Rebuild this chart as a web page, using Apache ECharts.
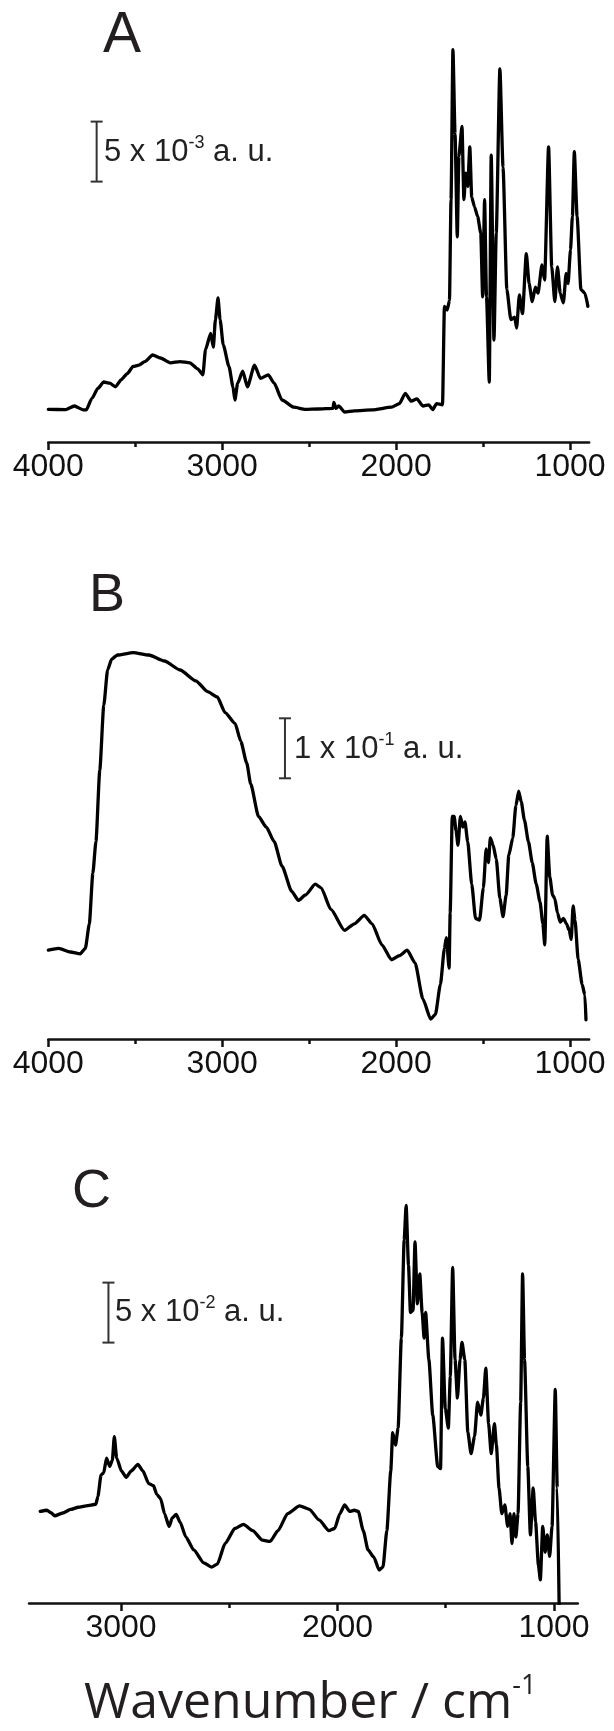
<!DOCTYPE html>
<html><head><meta charset="utf-8">
<script src="https://cdn.jsdelivr.net/npm/echarts@6/dist/echarts.min.js"></script>
<style>html,body{margin:0;padding:0;background:#fff}#c{width:614px;height:1731px}</style>
</head><body><div id="c"></div>
<script>
// ---- Panel A (units: 1e-3 a.u.) ----
const A_wn = [4000,3900,3850,3800,3782,3749,3715,3681,3647,3614,3580,3546,3512,3479,3445,3400,3355,3298,3242,3186,3141,3111,3096,3066,3051,3039,3024,3012,2994,2961,2938,2927,2911,2882,2855,2814,2780,2735,2701,2656,2588,2521,2450,2363,2358,2345,2330,2296,2240,2138,2026,1981,1947,1913,1880,1846,1812,1790,1767,1733,1722,1706,1693,1684,1673,1661,1648,1639,1621,1610,1599,1588,1576,1565,1549,1531,1513,1502,1491,1480,1464,1453,1437,1424,1403,1385,1363,1340,1318,1307,1291,1273,1251,1235,1217,1199,1184,1161,1146,1123,1105,1087,1072,1056,1038,1022,1011,997,986,975,959,937,914,897];
const A_abs = [2.72,2.7,3.0,2.68,2.67,3.64,4.47,5.0,4.9,4.6,5.2,5.7,6.3,6.4,6.7,7.25,7.0,6.6,6.7,6.6,6.1,5.6,7.7,9.05,7.9,10.2,12.0,10.2,8.1,6.3,4.6,3.5,4.9,5.9,4.6,6.4,5.3,5.6,4.9,3.5,2.9,2.72,2.75,2.8,3.3,2.8,3.0,2.5,2.6,2.67,2.9,3.2,4.05,3.4,3.6,3.0,3.1,2.7,3.2,3.1,11.3,11.0,11.8,20.2,32.7,25.7,17.1,23.8,26.3,20.2,22.4,21.3,24.6,20.4,19.6,18.8,17.4,12.1,20.2,12.1,5.0,23.9,8.5,17.4,31.1,22.9,12.7,10.2,10.4,9.5,12.25,10.7,15.7,13.2,11.7,12.9,12.4,14.75,13.5,24.6,14.6,11.7,14.6,12.4,11.6,14.05,13.2,16.0,18.8,24.2,18.8,12.7,12.4,11.3];
// ---- Panel B (units: a.u.) ----
const B_wn = [4000,3940,3873,3816,3787,3764,3744,3726,3704,3681,3659,3636,3602,3512,3422,3332,3242,3152,3084,3028,2983,2926,2893,2859,2836,2791,2746,2701,2656,2600,2562,2521,2465,2431,2375,2296,2240,2183,2138,2082,2026,1981,1936,1891,1846,1801,1774,1745,1722,1711,1695,1689,1677,1666,1655,1644,1630,1617,1604,1588,1565,1543,1520,1498,1482,1469,1458,1442,1424,1403,1385,1367,1352,1329,1311,1295,1280,1262,1239,1217,1194,1172,1156,1145,1131,1116,1100,1087,1072,1056,1038,1020,1004,993,982,971,953,930,914,908];
const B_abs = [0.148,0.151,0.145,0.142,0.151,0.192,0.276,0.329,0.448,0.556,0.615,0.633,0.640,0.644,0.640,0.630,0.615,0.597,0.579,0.570,0.544,0.526,0.496,0.460,0.425,0.371,0.353,0.329,0.288,0.246,0.231,0.240,0.258,0.252,0.216,0.181,0.192,0.206,0.192,0.157,0.132,0.139,0.148,0.127,0.067,0.033,0.041,0.091,0.151,0.169,0.118,0.210,0.371,0.371,0.347,0.323,0.371,0.353,0.362,0.329,0.258,0.201,0.198,0.252,0.317,0.294,0.335,0.323,0.300,0.234,0.204,0.240,0.306,0.335,0.389,0.413,0.395,0.365,0.329,0.294,0.258,0.228,0.192,0.157,0.338,0.270,0.240,0.234,0.210,0.195,0.201,0.192,0.181,0.166,0.222,0.198,0.133,0.091,0.073,0.032];
// ---- Panel C (units: 1e-2 a.u.) ----
const C_wn = [3373,3342,3324,3306,3269,3233,3197,3161,3116,3107,3092,3080,3067,3052,3040,3031,3020,2998,2976,2953,2922,2899,2872,2850,2835,2817,2799,2778,2763,2745,2727,2700,2664,2618,2582,2555,2519,2474,2434,2392,2347,2311,2275,2230,2175,2130,2085,2040,2013,1989,1967,1944,1922,1904,1881,1859,1832,1808,1790,1772,1754,1745,1732,1720,1705,1692,1683,1672,1663,1651,1642,1631,1620,1609,1600,1593,1578,1560,1537,1524,1515,1502,1488,1479,1468,1457,1446,1434,1425,1412,1398,1383,1367,1353,1338,1326,1315,1302,1290,1275,1266,1254,1241,1227,1214,1203,1194,1185,1176,1166,1154,1145,1136,1121,1109,1096,1085,1072,1063,1052,1041,1031,1020,1009,994,985,976];
const C_abs = [7.63,7.73,7.52,7.27,7.5,7.8,7.98,8.1,8.23,8.87,10.67,10.84,12.08,11.38,11.9,13.87,12.08,11.0,10.48,11.0,11.55,11.0,9.95,9.77,9.06,8.7,7.45,6.38,7.09,7.38,6.74,5.49,4.42,3.35,2.99,3.24,4.96,6.21,6.56,6.03,5.24,5.13,6.03,7.45,8.09,7.81,6.92,6.03,6.21,7.45,8.17,7.63,7.73,7.63,6.03,4.42,3.82,2.75,2.99,6.03,11.0,14.2,13.16,14.58,22.08,30.28,33.13,28.13,24.21,24.39,30.09,24.93,27.42,24.21,22.08,24.21,20.29,15.65,11.38,11.2,22.08,16.19,14.58,18.87,27.96,20.29,17.08,20.29,21.72,20.29,14.23,12.44,13.87,16.73,15.65,17.08,19.58,14.94,12.44,14.94,13.16,9.59,7.45,8.17,6.38,7.45,4.96,7.45,5.49,7.45,16.73,27.42,20.29,11.38,5.67,9.59,6.74,3.17,1.93,6.38,4.24,5.67,3.88,6.38,17.79,9.59,-0.5];

// ---- axis ticks ----
const AB_major = [4000,3000,2000,1000];
const AB_minor = [3500,2500,1500];
const C_major = [3000,2000,1000];
const C_minor = [2500,1500];

// ---- scale bars: [wavenumber, start value, length] in each panel's units ----
const scaleA = [3722, 21.7, 5];     // 5 x 10^-3 a.u.
const scaleB = [2639, 0.4345, 0.1]; // 1 x 10^-1 a.u.
const scaleC = [3058, 21.7, 5];     // 5 x 10^-2 a.u.

const zip = (x, y) => x.map((v, i) => [v, y[i]]);
const bar = s => [[s[0], s[1]], [s[0], s[1] + s[2]]];

const chart = echarts.init(document.getElementById('c'), null, {renderer: 'canvas'});
const ink = '#111';
const tickFont = {fontSize: 32, fontFamily: 'Liberation Sans, Arial', color: ink, margin: 9,
  formatter: v => String(v)};

function mainX(grid, min, max, major) {
  return {type: 'value', gridIndex: grid, position: 'bottom', min: min, max: max, inverse: true,
    axisLine: {show: true, onZero: false, lineStyle: {color: ink, width: 2.5}},
    axisTick: {show: true, customValues: major, length: 8, lineStyle: {color: ink, width: 2.5}},
    axisLabel: Object.assign({customValues: major}, tickFont),
    splitLine: {show: false}};
}
function minorX(grid, min, max, minor) {
  return {type: 'value', gridIndex: grid, position: 'bottom', min: min, max: max, inverse: true,
    axisLine: {show: false, onZero: false},
    axisTick: {show: true, customValues: minor, length: 5, lineStyle: {color: ink, width: 2.5}},
    axisLabel: {show: false}, splitLine: {show: false}};
}
function yAx(grid, min, max) {
  return {type: 'value', gridIndex: grid, min: min, max: max, show: false, splitLine: {show: false}};
}
function spec(idx, data) {
  return {type: 'line', xAxisIndex: idx * 2, yAxisIndex: idx, data: data, showSymbol: false,
    smooth: 0.2, smoothMonotone: 'x', lineStyle: {color: '#000', width: 3.3, join: 'round', cap: 'round'},
    silent: true, animation: false};
}
function scaleSeries(idx, s) {
  return {type: 'line', xAxisIndex: idx * 2, yAxisIndex: idx, data: bar(s), clip: false,
    symbol: 'rect', symbolSize: [12, 2], showSymbol: true, showAllSymbol: true,
    itemStyle: {color: '#333'}, lineStyle: {color: '#333', width: 2}, silent: true, animation: false};
}
const sup = {fontSize: 18, verticalAlign: 'top', fontFamily: 'Liberation Sans, Arial', fill: '#222', lineHeight: 36};
function scaleText(x, y, txt) {
  return {type: 'text', x: x, y: y, style: {text: txt, fontSize: 31, fontFamily: 'Liberation Sans, Arial',
    fill: '#222', align: 'left', verticalAlign: 'middle', lineHeight: 36,
    rich: {s: sup, n: {fontSize: 31, fontFamily: 'Liberation Sans, Arial', fill: '#222', lineHeight: 36}}}};
}
function letter(x, y, t, size) {
  return {type: 'text', x: x, y: y, style: {text: t, fontSize: size, fontFamily: 'Liberation Sans, Arial',
    fill: '#231f20', align: 'left', verticalAlign: 'middle'}};
}

chart.setOption({
  animation: false,
  backgroundColor: '#fff',
  grid: [
    {left: 48.3, width: 540.8, top: 10, height: 432, outerBoundsMode: 'none', containLabel: false},
    {left: 48.3, width: 540.8, top: 619, height: 420, outerBoundsMode: 'none', containLabel: false},
    {left: 29, width: 548.8, top: 1171, height: 432, outerBoundsMode: 'none', containLabel: false}
  ],
  xAxis: [
    mainX(0, 890, 4000, AB_major), minorX(0, 890, 4000, AB_minor),
    mainX(1, 890, 4000, AB_major), minorX(1, 890, 4000, AB_minor),
    mainX(2, 890, 3425, C_major), minorX(2, 890, 3425, C_minor)
  ],
  yAxis: [yAx(0, 0, 36), yAx(1, 0, 0.7), yAx(2, 0, 36)],
  series: [
    spec(0, zip(A_wn, A_abs)), scaleSeries(0, scaleA),
    spec(1, zip(B_wn, B_abs)), scaleSeries(1, scaleB),
    spec(2, zip(C_wn, C_abs)), scaleSeries(2, scaleC)
  ],
  graphic: [
    letter(103, 36, 'A', 57),
    letter(89, 596, 'B', 54),
    letter(72, 1192, 'C', 54),
    scaleText(104, 152, '{n|5 x 10}{s|-3}{n| a. u.}'),
    scaleText(294, 749, '{n|1 x 10}{s|-1}{n| a. u.}'),
    scaleText(115, 1312, '{n|5 x 10}{s|-2}{n| a. u.}'),
    {type: 'text', x: 84, y: 1704, style: {text: '{t|Wavenumber / cm}{u|-1}', align: 'left', verticalAlign: 'middle',
      rich: {t: {fontSize: 50, fontFamily: 'Open Sans', fill: '#231f20', lineHeight: 62},
             u: {fontSize: 27, fontFamily: 'Open Sans', fill: '#231f20', verticalAlign: 'top', lineHeight: 62}}}}
  ]
});
</script></body></html>
